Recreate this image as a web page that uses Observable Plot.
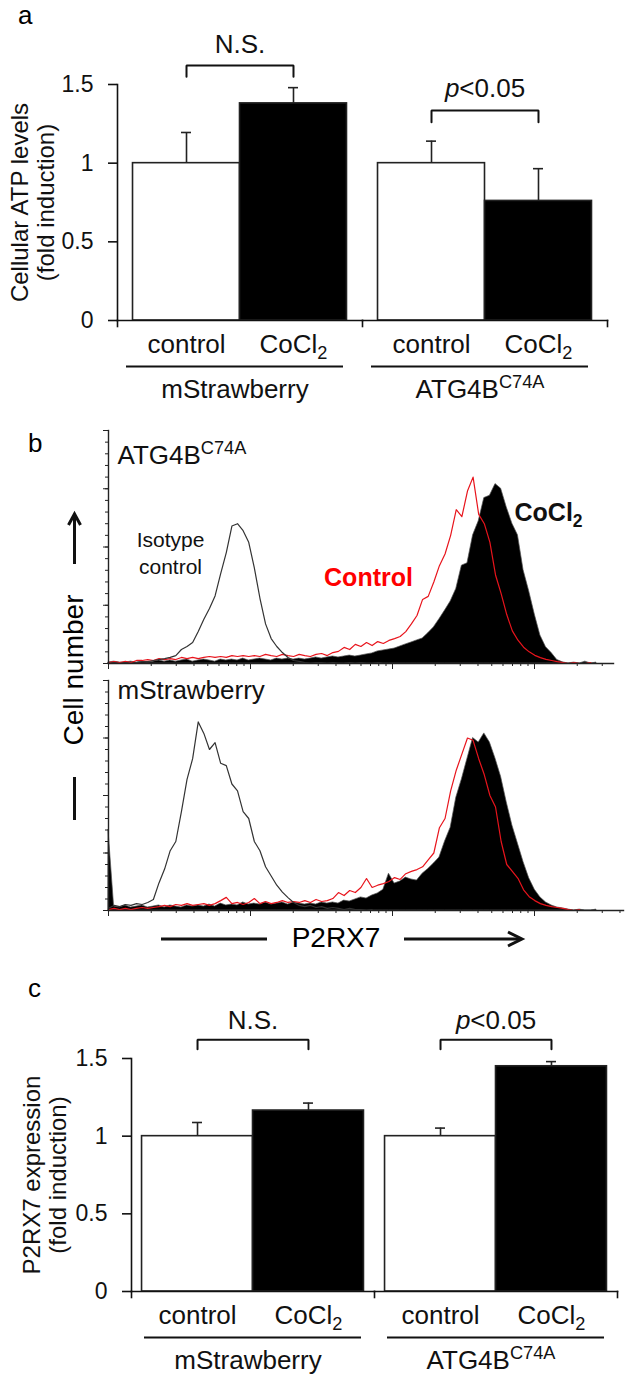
<!DOCTYPE html>
<html><head><meta charset="utf-8">
<script src="https://cdn.jsdelivr.net/npm/d3@7"></script>
<script src="https://cdn.jsdelivr.net/npm/@observablehq/plot@0.6"></script>
<style>
html,body{margin:0;padding:0;background:#fff;}
#root{position:relative;width:634px;height:1388px;overflow:hidden;font-family:"Liberation Sans",Arial,sans-serif;}
#root svg{position:absolute;left:0;}
</style></head><body><div id="root"></div>
<script>
const FONT = '"Liberation Sans", Arial, Helvetica, sans-serif';

// ---------- data ----------
const groups = ["mStrawberry", "ATG4B^{C74A}"];
const conditions = ["control", "CoCl_{2}"];

// panel a: cellular ATP levels (fold induction), order: mStr control, mStr CoCl2, ATG control, ATG CoCl2
const atpMean = [1.00, 1.38, 1.00, 0.76];
const atpErr  = [0.195, 0.10, 0.14, 0.205];
const atpStats = [
  {group: "mStrawberry", label: "N.S.", low: 1.55, high: 1.62, textY: 1.70},
  {group: "ATG4B^{C74A}", label: "*p*<0.05", low: 1.26, high: 1.335, textY: 1.42}
];

// panel c: P2RX7 expression (fold induction)
const p2rx7Mean = [1.00, 1.165, 1.00, 1.45];
const p2rx7Err  = [0.088, 0.048, 0.052, 0.03];
const p2rx7Stats = [
  {group: "mStrawberry", label: "N.S.", low: 1.56, high: 1.62, textY: 1.69},
  {group: "ATG4B^{C74A}", label: "*p*<0.05", low: 1.56, high: 1.62, textY: 1.69}
];

// panel b: flow cytometry histograms, counts per log-channel bin
const BIN = 0.0395; // decades per bin
const atgIsotype = [0,0.4,0,0.4,0,0.4,0.8,0.8,1.3,1.7,2.1,2.6,3.4,6,7.3,9,13.7,19,23.6,29,38.6,47.6,59,60,57,52,41,28,17,10.7,7.3,4.7,2.6,1.3,0.9,0.4,0,0.4,0.4,0,0.4,0,0,0.4,0,0.4,0,0,0.4,0,0];
const atgControl = [0.4,0.8,0.4,0.9,0.4,1.3,1.3,1.7,1.3,2.1,1.7,2.1,1.7,2.6,2.1,2.6,2.1,2.6,3.0,2.6,3.0,2.6,3.4,3.0,3.4,3.0,3.4,3.0,3.9,3.4,3.0,3.9,3.4,3.0,3.9,3.4,3.0,3.9,4.3,3.4,4.7,5.2,6.9,6.0,8.2,7.3,9.0,7.7,9.4,8.6,9.9,10.7,11.6,13.7,17,20.6,27.5,28.8,35,42,47,55,66,63,74,80,64,60,52,38,30,21,14,10,7,5,3.5,2.5,1.8,1.3,0.8,0.4,0,0.4,0,0,0.4];
const atgCoCl2 = [0.4,0.8,0.4,0.4,0.8,0.4,0.8,0.4,0.8,1.3,0.8,1.3,0.8,1.3,1.7,0.8,1.3,1.7,1.3,0.8,1.7,1.3,1.7,1.3,2.1,1.3,1.7,2.1,1.7,1.3,2.1,1.7,2.1,1.7,2.1,1.7,2.1,2.6,2.1,2.6,3.0,2.6,3.0,3.4,3.0,3.4,3.9,4.3,5.2,5.6,6.0,6.4,7.3,8.2,9.0,9.9,10.7,13,15.5,19,22.7,26.6,32,42,43,55,61,71,72,77,75,67,60,55,40,31,21,12,7,4.5,1.5,0.5,0,0.4,0,0.8,0,0.4];
const mstIsotype = [1,2.2,1.7,2.6,2.2,3.0,2.6,3.5,4.8,12,18,26,30,43,57,66,82,77,70,73,64,63,55,52,43,40,30,26,19,15,11,8,5.6,3.5,2.2,1.7,2.2,1.3,1.7,0.9,1.3,0.9,0.4,0.9,0.4,0.4,0,0.4];
const mstControl = [0.4,0.9,0.4,0.9,0.4,0.9,1.3,0.9,1.3,1.7,2.2,1.7,2.6,2.2,3.0,2.2,2.6,3.0,2.2,3.0,4.3,5.7,3.0,3.5,2.6,3.5,5.2,3.0,3.9,3.0,3.5,4.3,3.5,3.9,3.5,4.3,3.5,4.8,3.9,4.3,5.2,7.8,6.5,8.7,7.8,10,13.9,10,11,11.7,12.6,14.3,13.5,16,17,17.8,19,22,25,36,40,52,61,68,75,74,66,59,50,45,30,20,17,14,9,6,4.3,3,2.2,1.7,1.3,0.9,0.4,0,0.4];
const mstCoCl2 = [35,1.7,1.3,2.2,1.3,1.7,2.2,1.3,1.7,2.2,1.3,2.2,1.7,1.3,2.2,1.7,2.2,1.7,2.6,1.7,3.0,2.2,2.6,2.2,3.5,2.6,3.0,2.6,3.5,2.6,3.0,3.5,2.6,3.5,3.0,2.6,3.0,2.6,3.5,3.0,3.5,3.0,4.3,3.9,4.8,5.7,5.2,6.5,7.4,9,16,11.7,12.6,14.3,13.5,13,16,18,20.4,23,30,36,49,57,66,75,73,77,73,66,58,47,37,29,21,14,9,5.7,3.5,2.2,1.3,0.9,0.4,0,0.4,0,0,0.4];

// ---------- helpers ----------
const root = document.getElementById("root");
const SVGNS = "http://www.w3.org/2000/svg";

function rich(svg) {
  const els = Array.from(svg.querySelectorAll("text, tspan"))
    .filter(el => el.childElementCount === 0 && /\^\{|_\{|\*/.test(el.textContent));
  for (const el of els) {
    const s = el.textContent;
    const fs = parseFloat(getComputedStyle(el).fontSize) || 20;
    el.textContent = "";
    const re = /\^\{([^}]*)\}|_\{([^}]*)\}|\*([^*]*)\*/g;
    let last = 0, m, cur = 0;
    const add = (txt, shift, small, italic) => {
      if (!txt) return;
      const t = document.createElementNS(SVGNS, "tspan");
      t.textContent = txt;
      const d = shift - cur;
      if (d) t.setAttribute("dy", d.toFixed(2));
      cur = shift;
      if (small) t.setAttribute("font-size", (fs * 0.7).toFixed(1));
      if (italic) t.setAttribute("font-style", "italic");
      el.appendChild(t);
    };
    while ((m = re.exec(s))) {
      add(s.slice(last, m.index), 0, false, false);
      if (m[1] != null) add(m[1], -0.36 * fs, true, false);
      else if (m[2] != null) add(m[2], 0.26 * fs, true, false);
      else add(m[3], 0, false, true);
      last = re.lastIndex;
    }
    add(s.slice(last), 0, false, false);
  }
}

function place(svg, top) {
  svg.style.position = "absolute";
  svg.style.left = "0px";
  svg.style.top = top + "px";
  root.appendChild(svg);
  rich(svg);
}

function barChart(o) {
  const rows = [];
  groups.forEach((g, gi) => conditions.forEach((c, ci) =>
    rows.push({group: g, cond: c, value: o.mean[gi * 2 + ci], err: o.err[gi * 2 + ci]})));
  const bracketRows = o.stats.flatMap(b => [
    {group: b.group, cond: conditions[0], y: b.low},
    {group: b.group, cond: conditions[0], y: b.high},
    {group: b.group, cond: conditions[1], y: b.high},
    {group: b.group, cond: conditions[1], y: b.low}
  ]);
  const innerW = 634 - o.marginLeft - o.marginRight;
  const innerH = o.height - o.marginTop - o.marginBottom;
  const step = innerW / groups.length / (conditions.length + 2 * o.paddingOuter);
  const capInset = (step - 10) / 2;
  const ink = "#111";
  return Plot.plot({
    width: 634, height: o.height,
    marginTop: o.marginTop, marginBottom: o.marginBottom, marginLeft: o.marginLeft, marginRight: o.marginRight,
    style: {fontFamily: FONT, fontSize: "22px", color: ink, background: "transparent", overflow: "visible"},
    fx: {domain: groups, padding: 0, axis: null, label: null},
    x: {domain: conditions, paddingInner: 0, paddingOuter: o.paddingOuter, axis: null, round: false},
    y: {domain: [0, 1.5], axis: null},
    color: {domain: conditions, range: ["white", "black"]},
    marks: [
      Plot.barY(rows, {fx: "group", x: "cond", y: "value", fill: "cond", stroke: "#222", strokeWidth: 1.6}),
      Plot.ruleX(rows, {fx: "group", x: "cond", y1: "value", y2: d => d.value + d.err, stroke: "#222", strokeWidth: 1.6}),
      Plot.tickY(rows, {fx: "group", x: "cond", y: d => d.value + d.err, insetLeft: capInset, insetRight: capInset, stroke: "#222", strokeWidth: 1.6}),
      Plot.frame({anchor: "bottom", stroke: ink, strokeWidth: 1.6}),
      Plot.frame({anchor: "left", facetAnchor: "left", stroke: ink, strokeWidth: 1.6}),
      Plot.frame({anchor: "left", insetTop: innerH, insetBottom: -6, stroke: ink, strokeWidth: 1.6}),
      Plot.frame({anchor: "right", facetAnchor: "right", insetTop: innerH, insetBottom: -6, stroke: ink, strokeWidth: 1.6}),
      Plot.axisY({ticks: [0, 0.5, 1, 1.5], tickSize: 9, tickPadding: 15, tickFormat: d => String(d), fontSize: 23, strokeWidth: 1.6, label: null}),
      Plot.line(bracketRows, {fx: "group", x: "cond", y: "y", stroke: ink, strokeWidth: 2, strokeLinejoin: "miter"}),
      Plot.text(o.stats, {fx: "group", y: "textY", text: "label", frameAnchor: "middle", lineAnchor: "bottom", fontSize: 26}),
      Plot.text(rows, {fx: "group", x: "cond", text: "cond", frameAnchor: "bottom", dy: 32, lineAnchor: "bottom", fontSize: 26}),
      Plot.ruleY(groups, {fx: d => d, y: () => 0, dy: 46, insetLeft: o.ulLeft, insetRight: o.ulRight, stroke: ink, strokeWidth: 2.2}),
      Plot.text(groups, {fx: d => d, text: d => d, frameAnchor: "bottom", dy: 77, dx: -5, lineAnchor: "bottom", fontSize: 26}),
      Plot.text([{g: groups[0], t: o.title}], {fx: "g", text: "t", frameAnchor: "left", rotate: -90, dx: o.titleDx, textAnchor: "middle", lineAnchor: "middle", lineHeight: 1.1, fontSize: 24})
    ]
  });
}

function bins(arr) { return arr.map((n, i) => ({F: 10 ** (i * BIN), n})); }

function histogram(o) {
  const innerW = 634 - 108 - o.marginRight;
  const xMax = 10 ** (innerW / 142);
  const minor = [];
  for (const d of [1, 10, 100, 1000]) for (let k = 2; k <= 9; k++) if (d * k <= xMax) minor.push(d * k);
  const ink = "#222";
  return Plot.plot({
    width: 634, height: 252,
    marginTop: o.marginTop, marginBottom: o.marginBottom, marginLeft: 108, marginRight: o.marginRight,
    style: {fontFamily: FONT, fontSize: "21px", color: "#111", background: "transparent", overflow: "visible"},
    x: {type: "log", domain: [1, xMax], axis: null, label: null},
    y: {domain: [0, 100], axis: null, label: null},
    marks: [
      Plot.areaY(bins(o.cocl2), {x: "F", y: "n", fill: "black", stroke: "#555", strokeWidth: 0.7}),
      Plot.lineY(bins(o.control), {x: "F", y: "n", stroke: "#e8141c", strokeWidth: 1.2}),
      Plot.lineY(bins(o.isotype), {x: "F", y: "n", stroke: "#333", strokeWidth: 1.2}),
      Plot.axisX({ticks: minor, tickSize: 3, tickFormat: () => "", stroke: ink, label: null}),
      Plot.axisX({ticks: [1, 10, 100, 1000], tickSize: 6, tickFormat: () => "", stroke: ink, label: null}),
      Plot.axisY({ticks: d3.range(0, 101, 5), tickSize: 3, tickFormat: () => "", stroke: ink, label: null}),
      Plot.axisY({ticks: [0, 25, 50, 75, 100], tickSize: 5, tickFormat: () => "", stroke: ink, label: null}),
      Plot.frame({anchor: "left", stroke: ink, strokeWidth: 1.4}),
      Plot.frame({anchor: "bottom", stroke: ink, strokeWidth: 1.4}),
      ...o.labels
    ]
  });
}

// ---------- panel a ----------
place(barChart({
  mean: atpMean, err: atpErr, stats: atpStats,
  title: "Cellular ATP levels\n(fold induction)", titleDx: -85,
  height: 420, marginTop: 84, marginBottom: 100, marginLeft: 117, marginRight: 27,
  paddingOuter: 0.145, ulLeft: 9, ulRight: 19
}), 0);

// ---------- panel b ----------
place(histogram({
  isotype: atgIsotype, control: atgControl, cocl2: atgCoCl2,
  marginTop: 10, marginBottom: 9, marginRight: 21,
  labels: [
    Plot.text(["ATG4B^{C74A}"], {frameAnchor: "top-left", dx: 9, dy: 33, lineAnchor: "bottom", textAnchor: "start", fontSize: 26}),
    Plot.text(["Isotype\ncontrol"], {frameAnchor: "top-left", dx: 62, dy: 143, lineAnchor: "bottom", textAnchor: "middle", fontSize: 21, lineHeight: 1.24}),
    Plot.text(["Control"], {frameAnchor: "top-left", dx: 260, dy: 155, lineAnchor: "bottom", textAnchor: "middle", fontSize: 25, fontWeight: "bold", fill: "#ff0000"}),
    Plot.text(["CoCl_{2}"], {frameAnchor: "top-left", dx: 406, dy: 90, lineAnchor: "bottom", textAnchor: "start", fontSize: 25, fontWeight: "bold"})
  ]
}), 420);

place(histogram({
  isotype: mstIsotype, control: mstControl, cocl2: mstCoCl2,
  marginTop: 8, marginBottom: 14, marginRight: 11,
  labels: [
    Plot.text(["mStrawberry"], {frameAnchor: "top-left", dx: 9, dy: 18, lineAnchor: "bottom", textAnchor: "start", fontSize: 26})
  ]
}), 672);

// ---------- panel c ----------
place(barChart({
  mean: p2rx7Mean, err: p2rx7Err, stats: p2rx7Stats,
  title: "P2RX7 expression\n(fold induction)", titleDx: -87,
  height: 464, marginTop: 134, marginBottom: 97, marginLeft: 131, marginRight: 17,
  paddingOuter: 0.095, ulLeft: 13, ulRight: 13
}), 924);

// ---------- panel letters and axis arrows ----------
const ov = d3.select(root).append("svg")
  .attr("width", 634).attr("height", 1388)
  .style("position", "absolute").style("left", "0px").style("top", "0px")
  .style("font-family", FONT).style("pointer-events", "none");
ov.append("text").attr("x", 18).attr("y", 24).attr("font-size", 26).text("a");
ov.append("text").attr("x", 28).attr("y", 452).attr("font-size", 26).text("b");
ov.append("text").attr("x", 28).attr("y", 997).attr("font-size", 26).text("c");
ov.append("text").attr("transform", "translate(83,670) rotate(-90)").attr("text-anchor", "middle").attr("font-size", 28).text("Cell number");
const stroke = g => g.attr("stroke", "#111").attr("stroke-width", 3).attr("fill", "none");
ov.append("line").attr("x1", 74.5).attr("x2", 74.5).attr("y1", 564).attr("y2", 515).call(stroke);
ov.append("polyline").attr("points", "68.5,525 74.5,514 80.5,525").call(stroke);
ov.append("line").attr("x1", 74.5).attr("x2", 74.5).attr("y1", 777).attr("y2", 820).call(stroke);
ov.append("text").attr("x", 336).attr("y", 947).attr("text-anchor", "middle").attr("font-size", 28).text("P2RX7");
ov.append("line").attr("x1", 161).attr("x2", 267).attr("y1", 939).attr("y2", 939).call(stroke);
ov.append("line").attr("x1", 404).attr("x2", 521).attr("y1", 939).attr("y2", 939).call(stroke);
ov.append("polyline").attr("points", "508,932 522,939 508,946").call(stroke);
</script></body></html>
